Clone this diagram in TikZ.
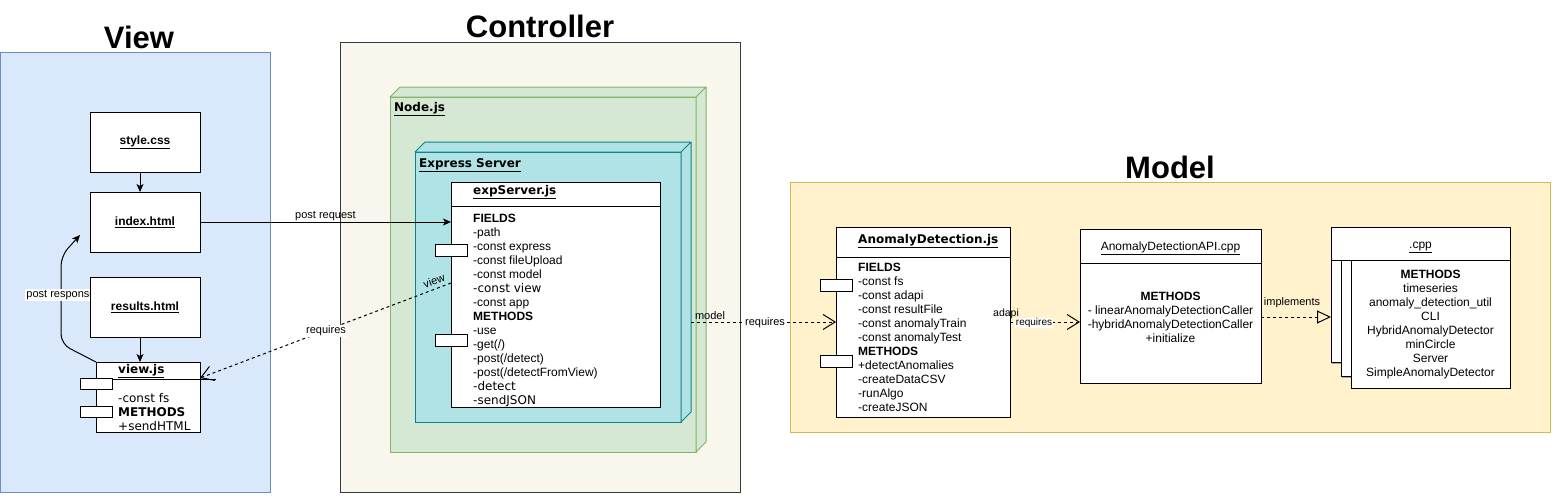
\documentclass[tikz,border=0pt]{standalone}
\usepackage{fontspec}
\setmainfont{Liberation Sans}
\newfontfamily\verd{DejaVu Sans}
\usetikzlibrary{arrows.meta,shadows}
\definecolor{viewfill}{HTML}{DAE8FC}
\definecolor{viewdraw}{HTML}{6C8EBF}
\definecolor{ctrlfill}{HTML}{F9F7ED}
\definecolor{ctrldraw}{HTML}{36393D}
\definecolor{nodefill}{HTML}{D5E8D4}
\definecolor{nodedraw}{HTML}{82B366}
\definecolor{expfill}{HTML}{B0E3E6}
\definecolor{expdraw}{HTML}{0E8088}
\definecolor{modelfill}{HTML}{FFF2CC}
\definecolor{modeldraw}{HTML}{D6B656}
\tikzset{
 cont/.style={draw, line width=1pt, inner sep=0pt, outer sep=0pt, anchor=north west},
 cls/.style={draw=black, fill=white, line width=1pt, inner sep=0pt, outer sep=0pt, anchor=north west},
 comp/.style={cls, minimum width=32pt, minimum height=12pt},
 ttl/.style={font=\fontsize{31}{36}\selectfont\bfseries, inner sep=0pt},
 filebox/.style={cls, minimum width=110pt, minimum height=60pt, font=\fontsize{12}{14}\selectfont\bfseries},
 body/.style={font=\fontsize{12}{14}\selectfont, align=left, inner sep=0pt, anchor=north west},
 cbody/.style={font=\fontsize{12}{14}\selectfont, align=center, inner sep=0pt, anchor=north},
 hdr/.style={font=\fontsize{12}{14}\selectfont\verd\bfseries, inner sep=0pt, anchor=base west},
 lbl/.style={font=\fontsize{11}{13}\selectfont, inner sep=1pt},
 arr/.style={line width=1pt, -{Stealth[length=8pt,width=7pt,inset=2pt]}},
 dep/.style={line width=1pt, dash pattern=on 3pt off 3pt, -{Straight Barb[length=12pt,width=15pt]}},
 real/.style={line width=1pt, dash pattern=on 3pt off 3pt, -{Triangle[open,length=14pt,width=13pt]}},
 face/.style={line width=1pt, line join=round},
 layer/.style={cls, drop shadow={shadow xshift=1pt, shadow yshift=-2pt, fill=black!35, opacity=1}},
}
\begin{document}
\begin{tikzpicture}[x=1pt,y=-1pt]
\useasboundingbox (0,0) rectangle (1552,501);
\fill[white] (0,0) rectangle (1552,501);
% containers
\node[cont, fill=viewfill, draw=viewdraw, minimum width=270pt, minimum height=440pt] (viewc) at (0,52) {};
\node[ttl] (viewt) at (139,37) {View};
\node[cont, fill=ctrlfill, draw=ctrldraw, minimum width=400pt, minimum height=450pt] (ctrlc) at (340,42) {};
\node[ttl] (ctrlt) at (540,26) {Controller};
\node[cont, fill=modelfill, draw=modeldraw, minimum width=760pt, minimum height=250pt] (modelc) at (790,182) {};
\node[ttl] (modelt) at (1170,167) {Model};
% Node.js 3D box
\node[cont, fill=nodefill, draw=nodedraw, minimum width=306pt, minimum height=355pt] (nodejs) at (390,97) {};
\draw[face, fill=nodefill, draw=nodedraw] (nodejs.north west) -- ([shift={(10,-10)}]nodejs.north west) -- ([shift={(10,-10)}]nodejs.north east) -- ([shift={(10,-10)}]nodejs.south east) -- (nodejs.south east) -- (nodejs.north east) -- cycle (nodejs.north east) -- ([shift={(10,-10)}]nodejs.north east);
\node[hdr] (nodejst) at (394,111) {\underline{Node.js}};
% Express server 3D box
\node[cont, fill=expfill, draw=expdraw, minimum width=266pt, minimum height=270pt] (express) at (415,152) {};
\draw[face, fill=expfill, draw=expdraw] (express.north west) -- ([shift={(10,-10)}]express.north west) -- ([shift={(10,-10)}]express.north east) -- ([shift={(10,-10)}]express.south east) -- (express.south east) -- (express.north east) -- cycle (express.north east) -- ([shift={(10,-10)}]express.north east);
\node[hdr] (expresst) at (419,167) {\underline{Express Server}};
% expServer.js
\node[cls, minimum width=209pt, minimum height=225pt] (expserver) at (451,182) {};
\draw[line width=1pt] ([yshift=-24pt]expserver.north west) -- ([yshift=-24pt]expserver.north east);
\node[hdr] (expservert) at (473,194) {\underline{expServer.js}};
\node[body] (expbody) at (473,211.7) {\rule{0pt}{11pt}\textbf{FIELDS}\\-path\\-const express\\-const fileUpload\\-const model\\{\verd -const view}\\-const app\\\textbf{METHODS}\\-use\\-get(/)\\-post(/detect)\\-post(/detectFromView)\\{\verd -detect}\\{\verd -sendJSON}};
\node[comp] (expc1) at (435,244) {};
\node[comp] (expc2) at (435,334) {};
% AnomalyDetection.js
\node[cls, minimum width=174pt, minimum height=190pt] (ad) at (836,227) {};
\draw[line width=1pt] ([yshift=-30pt]ad.north west) -- ([yshift=-30pt]ad.north east);
\node[hdr] (adt) at (858,243.7) {\underline{AnomalyDetection.js}};
\node[body] (adbody) at (858,260.7) {\rule{0pt}{11pt}\textbf{FIELDS}\\-const fs\\-const adapi\\-const resultFile\\-const anomalyTrain\\-const anomalyTest\\\textbf{METHODS}\\+detectAnomalies\\-createDataCSV\\-runAlgo\\-createJSON};
\node[comp] (adc1) at (820,279) {};
\node[comp] (adc2) at (820,355) {};
% AnomalyDetectionAPI.cpp
\node[cls, minimum width=181pt, minimum height=154pt] (api) at (1080,229) {};
\draw[line width=1pt] ([yshift=-34pt]api.north west) -- ([yshift=-34pt]api.north east);
\node[font=\fontsize{12}{14}\selectfont, inner sep=0pt, anchor=base] (apit) at (1170.5,250.5) {\underline{AnomalyDetectionAPI.cpp}};
\node[cbody] (apibody) at (1170.5,289.7) {\rule{0pt}{11pt}\textbf{METHODS}\\- linearAnomalyDetectionCaller\\-hybridAnomalyDetectionCaller\\+initialize};
% .cpp stack
\node[layer, minimum width=159pt, minimum height=102pt] (cppl1) at (1331,260) {};
\node[layer, minimum width=159pt, minimum height=116pt] (cppl2) at (1341,260) {};
\node[cls, minimum width=159pt, minimum height=128pt] (cppl3) at (1351,260) {};
\node[cls, minimum width=179pt, minimum height=33pt] (cpph) at (1331,227) {};
\node[font=\fontsize{12}{14}\selectfont, inner sep=0pt, anchor=base] (cppt) at (1420.5,248) {\underline{.cpp}};
\node[cbody] (cppbody) at (1430.5,267.3) {\rule{0pt}{11pt}\textbf{METHODS}\\timeseries\\anomaly\_detection\_util\\CLI\\HybridAnomalyDetector\\minCircle\\Server\\SimpleAnomalyDetector};
% View files
\node[filebox] (style) at (90,112) {\underline{style.css}};
\node[filebox] (index) at (90,192) {\underline{index.html}};
\node[cls, minimum width=104pt, minimum height=70pt] (viewjs) at (96,362) {};
\draw[line width=1pt] ([xshift=16pt,yshift=-17pt]viewjs.north west) -- ([xshift=16pt,yshift=-17pt]viewjs.north east);
\node[hdr] (viewjst) at (118,373.5) {\underline{view.js}};
\node[body, font=\fontsize{12}{14}\selectfont\verd] (viewjsbody) at (118,391) {\rule{0pt}{11pt}-const fs\\\textbf{METHODS}\\+sendHTML};
\node[comp, minimum height=11pt] (vjc1) at (80,378) {};
\node[comp, minimum height=11pt] (vjc2) at (80,406) {};
% post response
\coordinate (prend) at (80,235);
\draw[arr, rounded corners=10pt] (viewjs.north west) -- (61,344) -- (61,256) -- (prend);
\node[lbl, fill=white] (prlbl) at (61,295) {post response};
\node[filebox] (results) at (90,277) {\underline{results.html}};
\draw[arr] ([xshift=-5pt]style.south) -- ([xshift=-5pt]index.north);
\draw[arr] ([xshift=-5pt]results.south) -- ([xshift=-5pt]results.south |- viewjs.north);
% post request
\draw[arr] (index.east) -- (index.east -| expserver.west) node[lbl, midway, above] (preqlbl) {post request};
% requires view
\draw[dep] ([yshift=11.5pt]expserver.west) -- ([yshift=-16pt]viewjs.north east);
\node[lbl, fill=white] (req1) at (326,331) {requires};
\node[lbl, rotate=21] (viewlbl) at (434,281) {view};
% requires model
\coordinate (esside) at ([xshift=10pt]express.east);
\draw[dep] (esside |- ad.west) -- (ad.west);
\node[lbl] (modellbl) at (710,316) {model};
\node[lbl, fill=white] (req2) at (765,323) {requires};
% requires adapi
\draw[dep] (ad.east) -- (ad.east -| api.west);
\node[lbl, font=\fontsize{10.5}{12}\selectfont] (adapilbl) at (1006,314) {adapi};
\node[lbl, fill=white, font=\fontsize{10}{12}\selectfont, inner sep=0.5pt] (req3) at (1034,323) {requires};
% implements
\draw[real] ([yshift=-11pt]api.east) -- ([yshift=-11pt]api.east -| cppl1.west);
\node[lbl] (impllbl) at (1292,303) {implements};
\end{tikzpicture}
\end{document}
